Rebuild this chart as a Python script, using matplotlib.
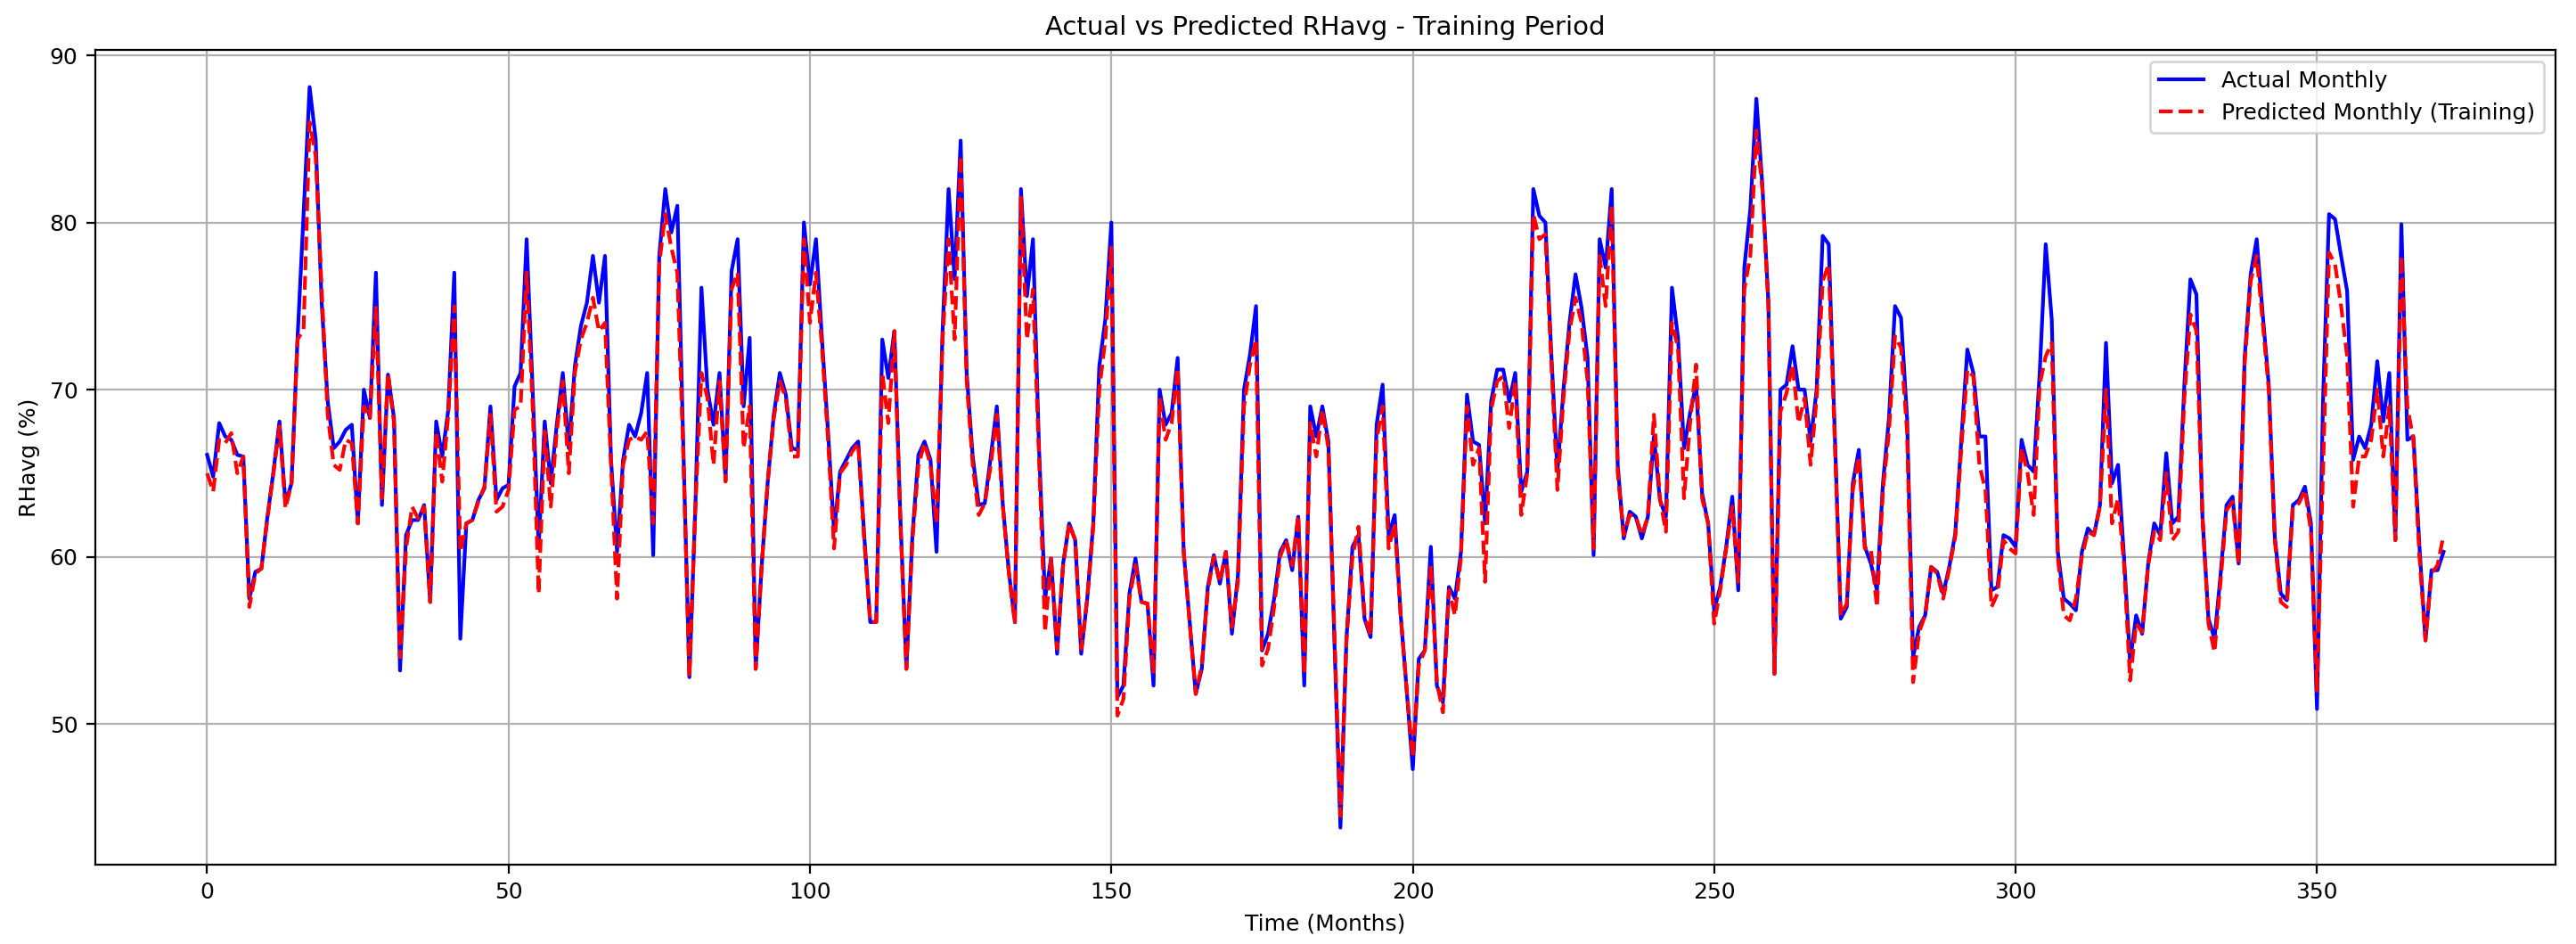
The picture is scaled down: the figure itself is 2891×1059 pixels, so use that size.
import numpy as np
import matplotlib
matplotlib.use("Agg")
import matplotlib.pyplot as plt

# --- data (monthly RHavg, %) ---
actual_rh = [
    66.1, 64.8, 68.0, 67.2, 67.0, 66.1, 66.0, 57.5, 59.1, 59.3,
    62.4, 65.1, 68.1, 63.2, 64.4, 73.1, 80.5, 88.1, 85.0, 75.2,
    69.3, 66.5, 66.9, 67.6, 67.9, 62.0, 70.0, 68.3, 77.0, 63.1,
    70.9, 68.3, 53.2, 61.3, 62.2, 62.2, 63.1, 57.3, 68.1, 66.0,
    68.8, 77.0, 55.1, 62.0, 62.2, 63.4, 64.1, 69.0, 63.4, 64.1,
    64.3, 70.2, 71.0, 79.0, 70.0, 60.6, 68.1, 64.4, 67.9, 71.0,
    66.5, 71.4, 73.8, 75.2, 78.0, 75.2, 78.0, 65.8, 60.3, 65.8,
    67.9, 67.2, 68.6, 71.0, 60.1, 78.0, 82.0, 79.4, 81.0, 66.5,
    52.8, 63.1, 76.1, 70.0, 67.9, 71.0, 64.6, 77.1, 79.0, 69.0,
    73.1, 53.3, 59.5, 64.5, 68.5, 71.0, 69.7, 66.5, 66.4, 80.0,
    76.3, 79.0, 73.0, 67.5, 61.5, 65.1, 65.8, 66.5, 66.9, 61.3,
    56.1, 56.1, 73.0, 70.7, 73.5, 62.4, 53.3, 61.3, 66.1, 66.9,
    65.8, 60.3, 73.5, 82.0, 76.6, 84.9, 71.0, 66.0, 63.1, 63.2,
    66.0, 69.0, 63.1, 59.1, 56.1, 82.0, 75.6, 79.0, 66.5, 57.5,
    59.9, 54.2, 59.6, 62.0, 61.0, 54.2, 57.5, 62.0, 71.4, 74.2,
    80.0, 51.6, 52.3, 57.8, 59.9, 57.3, 57.2, 52.3, 70.0, 67.9,
    68.6, 71.9, 60.3, 56.1, 51.8, 53.3, 58.2, 60.1, 58.4, 60.3,
    55.4, 58.9, 70.0, 72.1, 75.0, 54.4, 55.4, 57.5, 60.3, 61.0,
    59.2, 62.4, 52.3, 69.0, 67.2, 69.0, 66.9, 55.0, 43.8, 55.1,
    60.6, 61.3, 56.3, 55.2, 67.9, 70.3, 61.3, 62.5, 56.5, 52.0,
    47.3, 53.9, 54.4, 60.6, 52.3, 51.3, 58.2, 57.5, 60.3, 69.7,
    66.9, 66.7, 62.0, 69.3, 71.2, 71.2, 69.3, 71.0, 63.9, 65.1,
    82.0, 80.4, 80.0, 72.0, 65.1, 70.0, 74.0, 76.9, 74.9, 71.9,
    60.1, 79.0, 77.3, 82.0, 65.5, 61.1, 62.7, 62.4, 61.1, 62.4,
    67.2, 63.4, 62.4, 76.1, 73.1, 66.5, 68.6, 70.3, 63.8, 62.0,
    56.8, 58.2, 60.6, 63.6, 58.0, 77.3, 80.8, 87.4, 82.2, 75.2,
    53.0, 70.0, 70.3, 72.6, 70.0, 70.0, 66.9, 70.0, 79.2, 78.7,
    67.5, 56.3, 57.0, 64.4, 66.4, 60.6, 59.6, 58.0, 64.4, 68.3,
    75.0, 74.3, 68.3, 54.0, 55.8, 56.5, 59.4, 59.1, 57.8, 59.4,
    61.4, 67.0, 72.4, 71.0, 67.2, 67.2, 58.0, 58.2, 61.3, 61.1,
    60.6, 67.0, 65.5, 65.1, 71.0, 78.7, 74.2, 60.3, 57.5, 57.2,
    56.8, 60.3, 61.7, 61.3, 63.1, 72.8, 64.4, 65.5, 59.9, 53.7,
    56.5, 55.4, 59.6, 62.0, 61.3, 66.2, 62.0, 62.4, 70.3, 76.6,
    75.7, 62.4, 56.3, 55.1, 58.9, 63.1, 63.6, 59.6, 71.9, 76.9,
    79.0, 74.5, 70.3, 61.2, 57.8, 57.4, 63.1, 63.4, 64.2, 62.0,
    50.9, 69.3, 80.5, 80.2, 78.0, 75.9, 65.8, 67.2, 66.5, 67.9,
    71.7, 68.1, 71.0, 61.0, 79.9, 67.0, 67.2, 60.6, 55.0, 59.2,
    59.2, 60.3,
]

predicted_rh = [
    65.0, 63.9, 67.0, 66.8, 67.4, 65.0, 66.0, 57.0, 59.0, 59.3,
    62.3, 65.0, 67.8, 62.9, 64.4, 73.0, 73.6, 86.0, 84.0, 76.0,
    68.5, 65.5, 65.2, 67.0, 66.8, 62.0, 69.0, 68.3, 75.0, 63.5,
    71.0, 68.0, 54.0, 60.5, 63.0, 62.3, 63.0, 57.3, 67.5, 64.5,
    68.5, 75.0, 60.3, 62.0, 62.2, 63.3, 64.2, 68.5, 62.7, 63.0,
    64.0, 68.8, 69.0, 77.0, 69.0, 57.8, 67.5, 63.0, 67.5, 70.5,
    65.0, 71.0, 73.0, 74.0, 75.5, 73.5, 74.0, 65.5, 57.5, 65.5,
    67.0, 67.2, 67.0, 67.5, 62.0, 77.5, 80.5, 78.5, 77.0, 66.0,
    52.8, 63.0, 71.0, 69.5, 65.5, 70.5, 64.5, 76.0, 77.0, 66.5,
    69.0, 53.3, 59.5, 64.5, 68.3, 70.5, 69.5, 66.0, 66.0, 79.0,
    74.0, 77.0, 72.5, 67.0, 60.5, 65.0, 65.5, 66.3, 66.8, 61.0,
    56.1, 56.1, 71.0, 68.0, 73.5, 62.0, 53.3, 61.0, 65.5, 66.8,
    65.5, 62.0, 73.0, 79.0, 73.0, 84.0, 70.5, 65.5, 62.5, 63.2,
    65.5, 68.5, 63.0, 59.0, 56.0, 81.5, 73.0, 76.0, 66.0, 55.5,
    60.0, 54.5, 59.5, 62.0, 61.0, 54.5, 57.5, 61.8, 70.0, 73.0,
    78.5, 50.5, 51.5, 57.5, 59.5, 57.3, 57.2, 53.0, 69.5, 67.0,
    68.0, 71.3, 60.3, 56.0, 51.8, 53.5, 58.0, 60.0, 58.5, 60.3,
    55.8, 58.5, 69.0, 71.5, 73.0, 53.5, 54.5, 57.0, 60.0, 61.0,
    59.5, 62.5, 53.0, 68.0, 66.0, 68.8, 66.5, 55.5, 44.5, 55.0,
    60.0, 61.8, 56.5, 55.3, 67.0, 69.0, 60.5, 62.0, 56.5, 52.0,
    48.0, 53.5, 54.4, 59.5, 52.5, 50.7, 58.0, 56.5, 60.0, 69.0,
    65.5, 66.5, 58.5, 68.8, 70.5, 70.8, 67.7, 70.5, 62.5, 65.0,
    80.5, 79.0, 79.3, 71.5, 64.0, 69.5, 73.5, 75.5, 74.0, 70.5,
    60.5, 78.0, 75.0, 81.0, 65.0, 61.3, 62.5, 62.4, 61.3, 62.4,
    68.5, 63.5, 61.5, 74.0, 72.5, 63.5, 68.0, 71.5, 63.5, 62.0,
    56.0, 58.0, 60.5, 63.0, 58.5, 76.0, 78.0, 85.5, 82.0, 75.0,
    53.0, 68.7, 69.8, 71.5, 68.0, 69.5, 65.5, 69.5, 76.5, 77.5,
    67.0, 56.5, 57.2, 64.0, 66.0, 60.5, 60.5, 57.0, 64.0, 67.5,
    73.2, 72.5, 67.5, 52.5, 55.5, 56.5, 59.4, 59.0, 57.5, 59.3,
    61.2, 66.5, 71.2, 70.8, 65.5, 64.0, 57.0, 57.8, 61.0, 60.5,
    60.2, 66.5, 65.0, 62.5, 70.3, 72.0, 72.8, 60.0, 56.5, 56.2,
    57.5, 60.0, 61.5, 61.3, 63.0, 70.0, 62.0, 63.5, 59.5, 52.6,
    56.0, 55.5, 59.5, 61.5, 61.0, 65.0, 61.0, 61.5, 69.5, 74.5,
    73.5, 62.5, 56.0, 54.3, 58.5, 62.8, 63.3, 59.5, 71.5, 76.5,
    78.0, 74.0, 70.0, 61.0, 57.3, 57.0, 63.0, 63.2, 64.0, 61.5,
    52.0, 65.0, 78.2, 77.5, 75.0, 72.0, 63.0, 66.0, 66.0, 67.0,
    70.0, 66.0, 69.0, 61.0, 78.0, 69.0, 67.0, 60.0, 55.0, 59.0,
    59.5, 61.3,
]

months = np.arange(len(actual_rh))

# --- plot ---
fig, ax = plt.subplots(figsize=(14.455, 5.295), dpi=200)
fig.subplots_adjust(left=0.037, right=0.992, top=0.947, bottom=0.084)

ax.plot(months, actual_rh, color='blue', linewidth=1.5, label='Actual Monthly')
ax.plot(months, predicted_rh, color='red', linestyle='--', linewidth=1.5,
        label='Predicted Monthly (Training)')

ax.set_title('Actual vs Predicted RHavg - Training Period', fontsize=10.5)
ax.set_xlabel('Time (Months)', fontsize=9)
ax.set_ylabel('RHavg (%)', fontsize=9)
ax.tick_params(labelsize=9)
ax.legend(loc='upper right', fontsize=9)
ax.grid(True)

fig.savefig('out.png', dpi=200)
